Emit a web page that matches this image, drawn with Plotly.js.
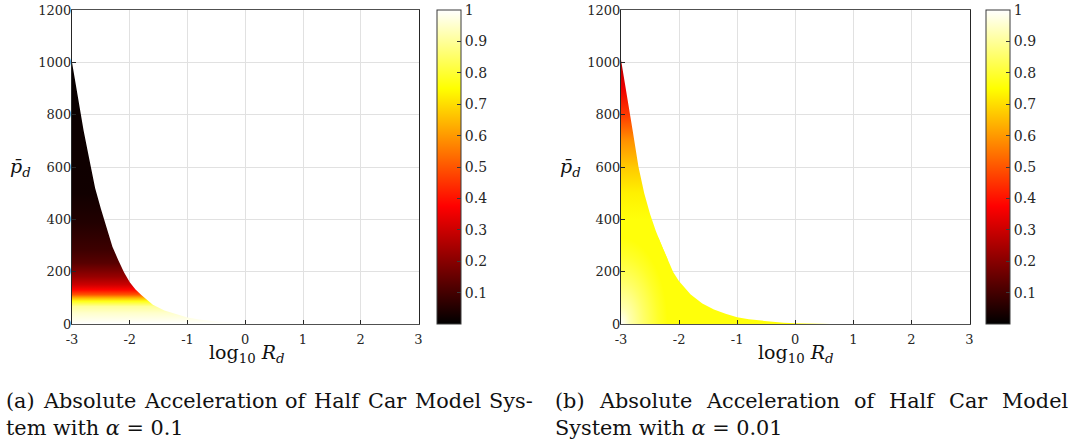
<!DOCTYPE html>
<html><head><meta charset="utf-8">
<script src="https://cdn.plot.ly/plotly-3.0.1.min.js"></script>
<style>html,body{margin:0;padding:0;background:#fff}#chart{width:1073px;height:448px}</style>
</head><body><div id="chart"></div>
<script>
// ---------------- data ----------------
const logRd   = [-3, -2.9, -2.8, -2.7, -2.6, -2.5, -2.4, -2.3, -2.2, -2.1, -2.0, -1.9, -1.8, -1.6, -1.4, -1.2, -1.0, -0.8, -0.6, -0.4, -0.2, 0, 0.3, 0.6];
// upper edge of the computed region (p̄_d) for each log10 R_d
const pEdgeA  = [1000, 870, 740, 630, 520, 440, 365, 295, 245, 198, 160, 132, 111, 74, 52, 37, 25, 17, 11, 7, 4, 2, 0.5, 0];
const pEdgeB  = [1010, 880, 740, 602, 500, 420, 355, 300, 248, 198, 163, 137, 113, 78, 55, 39, 26, 18, 13, 8, 4.5, 3, 1.5, 0];
// surface value vs p̄_d (panel a, alpha = 0.1)
const levelPA   = [0, 42, 67, 87, 99, 112, 131, 150, 182, 233, 284, 386, 500, 1000];
const levelValA = [1.0, 0.95, 0.9, 0.77, 0.65, 0.5, 0.38, 0.3, 0.22, 0.13, 0.09, 0.05, 0.025, 0.01];
// surface value vs p̄_d (panel b, alpha = 0.01)
const levelPB   = [0, 400, 500, 600, 700, 800, 900, 1010];
const levelValB = [0.76, 0.76, 0.73, 0.67, 0.59, 0.46, 0.35, 0.25];
// light corner of panel b around (log10 R_d = -3, p̄_d = 0): value vs relative distance
const cornerDistB = [0, 0.2, 0.5, 0.8, 1];
const cornerValB  = [1.0, 0.92, 0.85, 0.79, 0.76];
const cornerReachXB = -2.2;
const cornerReachPB = 330;
// ticks
const xTickVals = [-3, -2, -1, 0, 1, 2, 3];
const xTickText = ['-3', '-2', '-1', '0', '1', '2', '3'];
const yTickVals = [0, 200, 400, 600, 800, 1000, 1200];
const cbTickVals = [0.1, 0.2, 0.3, 0.4, 0.5, 0.6, 0.7, 0.8, 0.9, 1];
const cbTickText = ['0.1', '0.2', '0.3', '0.4', '0.5', '0.6', '0.7', '0.8', '0.9', '1'];
// texts
const xTitle = 'log<sub>10</sub> <i>R</i><sub><i>d</i></sub>';
const yTitle = '<i>p\u0304</i><sub><i>d</i></sub>';
const capA1 = '(a) Absolute Acceleration of Half Car Model Sys-';
const capA2 = 'tem with <i>α</i> = 0.1';
const capB1 = '(b) Absolute Acceleration of Half Car Model';
const capB2 = 'System with <i>α</i> = 0.01';

// ---------------- helpers ----------------
const W = 1073, H = 448;
const px = v => v / W, py = v => 1 - v / H;
const FONT = 'DejaVu Serif';
const clamp = v => Math.max(0, Math.min(1, v));
function hot(v) {
  const r = clamp(v / 0.375), g = clamp((v - 0.375) / 0.375), b = clamp((v - 0.75) / 0.25);
  return 'rgb(' + Math.round(r * 255) + ',' + Math.round(g * 255) + ',' + Math.round(b * 255) + ')';
}
const hotScale = [[0, hot(0)], [0.375, hot(0.375)], [0.75, hot(0.75)], [1, hot(1)]];
function levelScale(ps, vals) {
  const top = ps[ps.length - 1];
  return ps.map((p, i) => [p / top, hot(vals[i])]);
}
function regionTrace(bx, by, xa, ya, scale, top) {
  return {
    type: 'scatter', mode: 'lines', x: bx.concat([bx[0]]), y: by.concat([0]),
    xaxis: xa, yaxis: ya, fill: 'toself', line: {width: 0}, hoverinfo: 'skip',
    fillgradient: {type: 'vertical', start: 0, stop: top, colorscale: scale}
  };
}
function cornerTrace(bx, by, xr, pr, xa, ya, dist, vals) {
  const pts = [];
  for (let i = 0; i < bx.length; i++) {
    if (i > 0 && (by[i - 1] - pr) * (by[i] - pr) < 0) {
      const t = (pr - by[i - 1]) / (by[i] - by[i - 1]);
      pts.push([bx[i - 1] + t * (bx[i] - bx[i - 1]), pr]);
    }
    pts.push([bx[i], Math.min(by[i], pr)]);
    if (bx[i] >= xr) break;
  }
  const x0 = bx[0];
  const xs = [2 * x0 - xr, xr], ys = [-pr, -pr];
  pts.slice().reverse().forEach(p => { xs.push(p[0]); ys.push(p[1]); });
  xs.push(2 * x0 - xr); ys.push(pr);
  return {
    type: 'scatter', mode: 'lines', x: xs, y: ys, xaxis: xa, yaxis: ya,
    fill: 'toself', line: {width: 0}, hoverinfo: 'skip',
    fillgradient: {type: 'radial', colorscale: dist.map((d, i) => [d, hot(vals[i])])}
  };
}
function colorbarTrace(xa, ya, leftPx) {
  return {
    type: 'scatter', mode: 'markers', x: [xTickVals[0]], y: [yTickVals[0]], xaxis: xa, yaxis: ya,
    hoverinfo: 'skip',
    marker: {
      size: 1, opacity: 0, color: [0], cmin: 0, cmax: 1, colorscale: hotScale, showscale: true,
      colorbar: {
        x: px(leftPx), xanchor: 'left', y: py(10), yanchor: 'top',
        len: 314, lenmode: 'pixels', thickness: 24, thicknessmode: 'pixels',
        xpad: 0, ypad: 0, outlinewidth: 1, outlinecolor: '#3a3a3a',
        tickvals: cbTickVals, ticktext: cbTickText, ticks: 'inside', ticklen: 4,
        tickcolor: '#3a3a3a', tickfont: {family: FONT, size: 14, color: '#262626'}
      }
    }
  };
}
function axisX(d0, d1, anchor) {
  return {
    domain: [px(d0), px(d1)], range: [-3, 3], anchor: anchor, tickvals: xTickVals, ticktext: xTickText,
    showgrid: true, gridcolor: '#e1e1e1', gridwidth: 1, zeroline: false,
    showline: true, mirror: true, linecolor: '#505050', linewidth: 1,
    ticks: 'inside', ticklen: 4, tickcolor: '#262626', ticklabelstandoff: 3,
    tickfont: {family: FONT, size: 13, color: '#262626'}, fixedrange: true
  };
}
function axisY(anchor) {
  return {
    domain: [py(324), py(10)], range: [0, 1200], anchor: anchor, tickvals: yTickVals,
    showgrid: true, gridcolor: '#e1e1e1', gridwidth: 1, zeroline: false,
    showline: true, mirror: true, linecolor: '#262626', linewidth: 1,
    ticks: 'inside', ticklen: 4, tickcolor: '#262626', ticklabelstandoff: -3,
    tickfont: {family: FONT, size: 13, color: '#262626'}, fixedrange: true
  };
}
// text measurement with the same SVG engine Plotly uses (kept off-screen)
const svgNS = 'http://www.w3.org/2000/svg';
const msvg = document.createElementNS(svgNS, 'svg');
msvg.setAttribute('width', '10'); msvg.setAttribute('height', '10');
msvg.style.position = 'absolute'; msvg.style.left = '-100px'; msvg.style.top = '0';
document.body.appendChild(msvg);
function textWidth(str, size) {
  const t = document.createElementNS(svgNS, 'text');
  t.setAttribute('style', 'font-family:' + FONT + ';font-size:' + size + 'px');
  t.textContent = str; msvg.appendChild(t);
  const w = t.getComputedTextLength(); msvg.removeChild(t); return w;
}
function ann(text, xPx, yPx, size, xanchor) {
  return {text: text, x: px(xPx), y: py(yPx), xref: 'paper', yref: 'paper', xanchor: xanchor || 'center',
    yanchor: 'middle', showarrow: false, borderpad: 0, borderwidth: 0,
    font: {family: FONT, size: size, color: '#111'}};
}
function justified(text, left, right, yPx, size) {
  const words = text.split(' ');
  const ws = words.map(w => textWidth(w, size));
  const ok = ws.every((w, i) => w > 0.3 * size * words[i].length && w < 0.95 * size * words[i].length);
  const total = ws.reduce((a, b) => a + b, 0);
  const gap = (right - left - total) / (words.length - 1);
  if (!ok || gap < 0.15 * size || gap > 2 * size) return [ann(text, left, yPx, size, 'left')];
  let x = left;
  return words.map((w, i) => { const a = ann(w, x, yPx, size, 'left'); x += ws[i] + gap; return a; });
}
// caption size: as large as 21px, but the first line must keep normal word gaps inside its width
let CAP = 21;
const natA = textWidth(capA1, CAP);
if (natA > 515 && natA < 700) CAP = Math.floor(CAP * 515 / natA * 10) / 10;
if (!(CAP >= 18 && CAP <= 21)) CAP = 19.5;

// ---------------- figure ----------------
const data = [
  regionTrace(logRd, pEdgeA, 'x', 'y', levelScale(levelPA, levelValA), levelPA[levelPA.length - 1]),
  regionTrace(logRd, pEdgeB, 'x2', 'y2', levelScale(levelPB, levelValB), levelPB[levelPB.length - 1]),
  cornerTrace(logRd, pEdgeB, cornerReachXB, cornerReachPB, 'x2', 'y2', cornerDistB, cornerValB),
  colorbarTrace('x', 'y', 436.5),
  colorbarTrace('x2', 'y2', 985.5)
];
const annotations = [
  ann(xTitle, 246, 353, 19), ann(xTitle, 795, 353, 19),
  ann(yTitle, 20, 167, 19), ann(yTitle, 570, 167, 19),
  ...justified(capA1, 6, 533, 401, CAP),
  ann(capA2, 6, 428, CAP, 'left'),
  ...justified(capB1, 555, 1068, 401, CAP),
  ann(capB2, 555, 428, CAP, 'left')
];
const layout = {
  width: W, height: H, margin: {l: 0, r: 0, t: 0, b: 0},
  paper_bgcolor: '#fff', plot_bgcolor: '#fff', showlegend: false,
  font: {family: FONT, size: 13, color: '#262626'},
  xaxis: axisX(72, 418.5, 'y'), yaxis: axisY('x'),
  xaxis2: axisX(621, 969.5, 'y2'), yaxis2: axisY('x2'),
  annotations: annotations
};
Plotly.newPlot('chart', data, layout, {displayModeBar: false, staticPlot: true});
</script></body></html>
